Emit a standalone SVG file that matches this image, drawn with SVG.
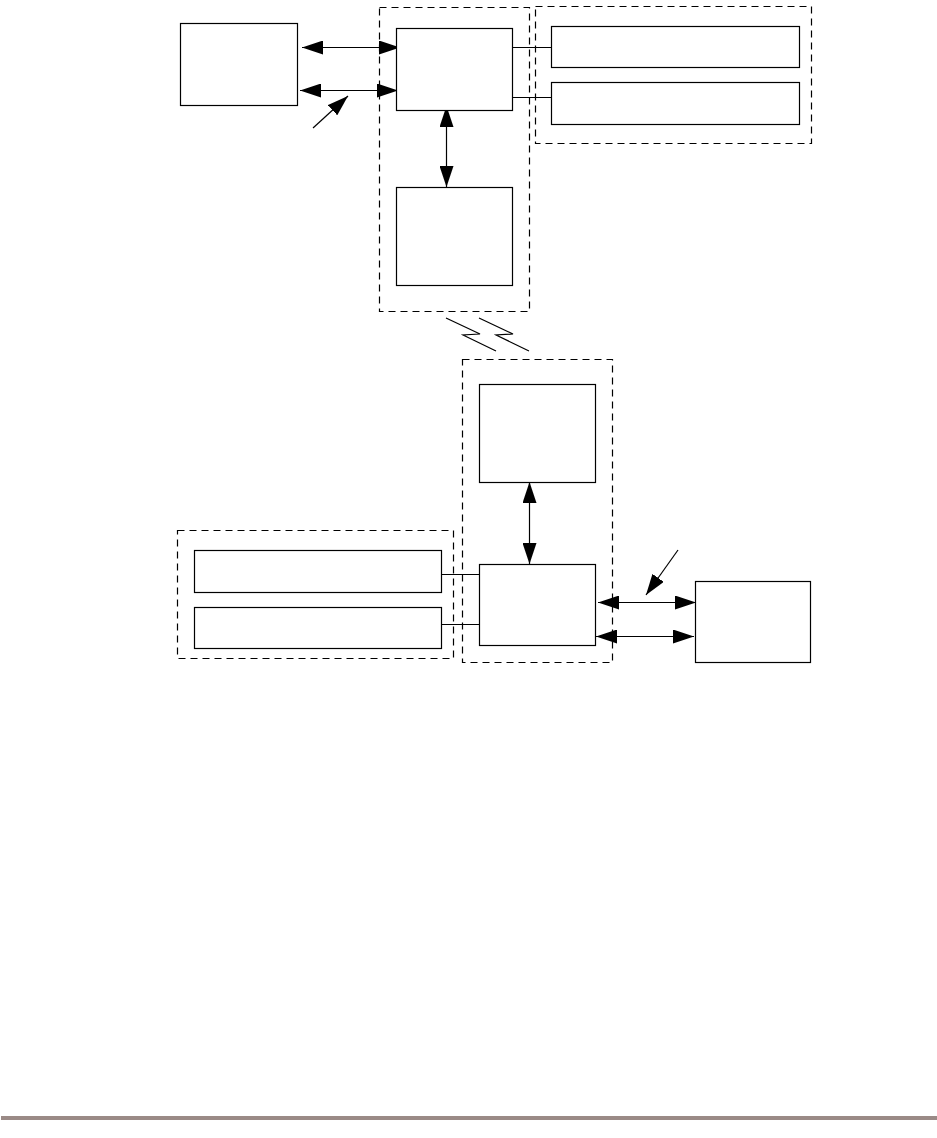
<svg xmlns="http://www.w3.org/2000/svg" width="937" height="1138" viewBox="0 0 937 1138">
<style>
.box{fill:#fff;stroke:#000;stroke-width:1.2}
.grp{fill:none;stroke:#000;stroke-width:1.2;stroke-dasharray:7 5}
.ln{fill:none;stroke:#000;stroke-width:1.2}
.arr{fill:none;stroke:#000;stroke-width:1.2;marker-start:url(#ah);marker-end:url(#ah)}
.ptr{fill:none;stroke:#000;stroke-width:1.2;marker-end:url(#ah)}
</style>
<defs>
<marker id="ah" markerUnits="userSpaceOnUse" viewBox="0 0 21 14" refX="21" refY="7" markerWidth="21" markerHeight="14" orient="auto-start-reverse">
<path d="M0,0 L21,7 L0,14 Z" fill="#000"/>
</marker>
</defs>
<rect width="937" height="1138" fill="#fff"/>
<g id="groups">
<rect id="grp-top-center" class="grp" x="379.5" y="7.5" width="150" height="304"/>
<rect id="grp-top-right" class="grp" x="535.5" y="6.5" width="276" height="137"/>
<rect id="grp-bottom-center" class="grp" x="462.5" y="359.5" width="150" height="303"/>
<rect id="grp-bottom-left" class="grp" x="177.5" y="530.5" width="276" height="128"/>
</g>
<g id="connectors">
<line class="arr" x1="302" y1="47.5" x2="400" y2="47.5"/>
<line class="arr" x1="300" y1="90.5" x2="398" y2="90.5"/>
<line class="ptr" x1="313" y1="128" x2="348" y2="96"/>
<line class="arr" x1="446.5" y1="106" x2="446.5" y2="187"/>
<line class="ln" x1="512" y1="47.5" x2="551" y2="47.5"/>
<line class="ln" x1="512" y1="97.5" x2="551" y2="97.5"/>
<polyline class="ln" points="446,318 480,334 463,335 496,351"/>
<polyline class="ln" points="479,318 513,334 496,335 529,351"/>
<line class="arr" x1="529.5" y1="482" x2="529.5" y2="564"/>
<line class="ln" x1="441" y1="574.5" x2="479" y2="574.5"/>
<line class="ln" x1="441" y1="624.5" x2="479" y2="624.5"/>
<line class="arr" x1="598" y1="602.5" x2="696" y2="602.5"/>
<line class="arr" x1="596" y1="636.5" x2="694" y2="636.5"/>
<line class="ptr" x1="678" y1="550" x2="646" y2="595"/>
</g>
<g id="node-left"><rect class="box" x="180.5" y="23.5" width="117" height="82"/></g>
<g id="node-a"><rect class="box" x="396.5" y="28.5" width="116" height="82"/></g>
<g id="node-b"><rect class="box" x="396.5" y="187.5" width="116" height="98"/></g>
<g id="node-c"><rect class="box" x="551.5" y="26.5" width="248" height="41"/></g>
<g id="node-d"><rect class="box" x="551.5" y="82.5" width="248" height="42"/></g>
<g id="node-e"><rect class="box" x="479.5" y="384.5" width="116" height="98"/></g>
<g id="node-f"><rect class="box" x="479.5" y="564.5" width="116" height="81"/></g>
<g id="node-g"><rect class="box" x="194.5" y="550.5" width="247" height="42"/></g>
<g id="node-h"><rect class="box" x="194.5" y="607.5" width="247" height="41"/></g>
<g id="node-right"><rect class="box" x="695.5" y="581.5" width="115" height="81"/></g>
<rect id="footer-rule" x="1" y="1116" width="936" height="4" fill="#9a8a86"/>
</svg>
